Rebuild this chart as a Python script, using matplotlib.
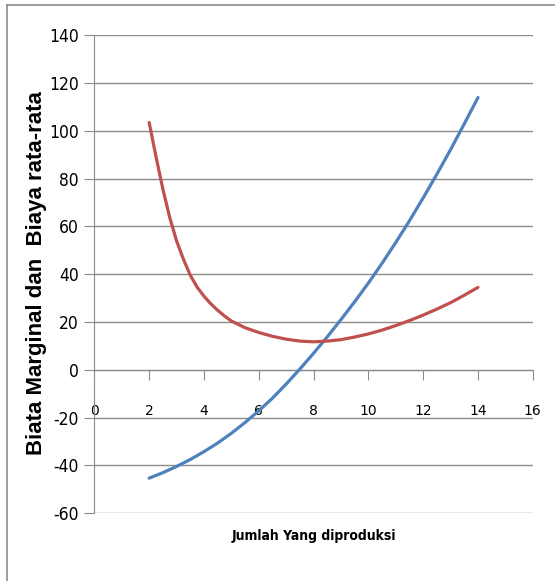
import matplotlib
matplotlib.use("Agg")
import matplotlib.pyplot as plt
from matplotlib.lines import Line2D
from matplotlib import font_manager

# Data
x_mc = [2, 2.5, 3, 3.5, 4, 4.5, 5, 5.5, 6, 6.5, 7, 7.5, 8,
        8.5, 9, 9.5, 10, 10.5, 11, 11.5, 12, 12.5, 13, 13.5, 14]
mc = [-45.4, -43.1, -40.5, -37.6, -34.3, -30.7, -26.6, -22.1, -17.2, -11.9, -6.0, 0.3, 6.9,
      13.8, 21.0, 28.5, 36.3, 44.6, 53.3, 62.4, 72.0, 81.9, 92.2, 103.0, 114.0]

x_ac = [2, 2.25, 2.5, 2.75, 3, 3.25, 3.5, 3.75, 4, 4.25, 4.5, 4.75, 5, 5.5, 6, 6.5, 7, 7.5, 8,
        8.5, 9, 9.5, 10, 10.5, 11, 11.5, 12, 12.5, 13, 13.5, 14]
ac = [103.5, 89.2, 75.7, 63.8, 54.0, 46.3, 39.6, 34.6, 30.8, 27.6, 24.9, 22.5, 20.4, 17.6, 15.6,
      14.0, 12.8, 12.0, 11.7, 12.0, 12.6, 13.7, 15.0, 16.6, 18.5, 20.6, 22.9, 25.4, 28.1, 31.2, 34.5]

x_ticks = list(range(0, 17, 2))
y_ticks = list(range(-60, 141, 20))

grid_color = '#8c8c8c'

# Pick a narrow font for the Calibri-like texts, if one is installed
fonts = font_manager.fontManager.ttflist
names = {f.name for f in fonts}
if 'Liberation Sans Narrow' in names:
    narrow = dict(family=['Liberation Sans Narrow', 'DejaVu Sans'])
    tick_size, xlab_size = 13, 11.5
elif any(f.name == 'DejaVu Sans' and f.stretch == 'condensed' for f in fonts):
    narrow = dict(family=['DejaVu Sans'], stretch='condensed')
    tick_size, xlab_size = 12.5, 10
else:
    narrow = dict(family=['Liberation Sans', 'DejaVu Sans'])
    tick_size, xlab_size = 11.5, 10

fig = plt.figure(figsize=(5.55, 5.81), dpi=100)
ax = fig.add_axes([0.170, 0.117, 0.790, 0.822])

# Plot the two cost curves
ax.plot(x_mc, mc, color='#4F81BD', linewidth=2.3, solid_capstyle='round', zorder=3)
ax.plot(x_ac, ac, color='#C0504D', linewidth=2.3, solid_capstyle='round', zorder=4)

ax.set_xlim(0, 16)
ax.set_ylim(-60, 140)
ax.set_xticks(x_ticks)
ax.set_yticks(y_ticks)
ax.set_xticklabels([str(v) for v in x_ticks], fontsize=tick_size, **narrow)
ax.set_yticklabels([str(v) for v in y_ticks], fontsize=tick_size, **narrow)

# Horizontal grid lines
ax.grid(axis='y', color=grid_color, linewidth=1.0)
ax.set_axisbelow(True)

# Axes like Excel: x axis crosses at y = 0
for s in ['top', 'right']:
    ax.spines[s].set_visible(False)
ax.spines['bottom'].set_position(('data', 0))
ax.spines['bottom'].set_color(grid_color)
ax.spines['left'].set_color(grid_color)
ax.tick_params(axis='x', direction='out', length=7, color=grid_color, pad=18)
ax.tick_params(axis='y', direction='out', length=7, color=grid_color, pad=4)

# Axis titles
fig.text(37 / 555, 1 - 273 / 581, 'Biata Marginal dan  Biaya rata-rata',
         rotation=90, ha='center', va='center', fontsize=16,
         fontweight='bold', family=['Liberation Sans', 'DejaVu Sans'])
fig.text(314 / 555, 1 - 536 / 581, 'Jumlah Yang diproduksi',
         ha='center', va='center', fontsize=xlab_size, fontweight='bold', **narrow)

# Outer frame (left and top edges)
fig.add_artist(Line2D([7 / 555, 7 / 555], [0, 1 - 5 / 581], color=grid_color, linewidth=1.2))
fig.add_artist(Line2D([7 / 555, 1], [1 - 5 / 581, 1 - 5 / 581], color=grid_color, linewidth=1.2))

plt.savefig('out.png', dpi=100)
